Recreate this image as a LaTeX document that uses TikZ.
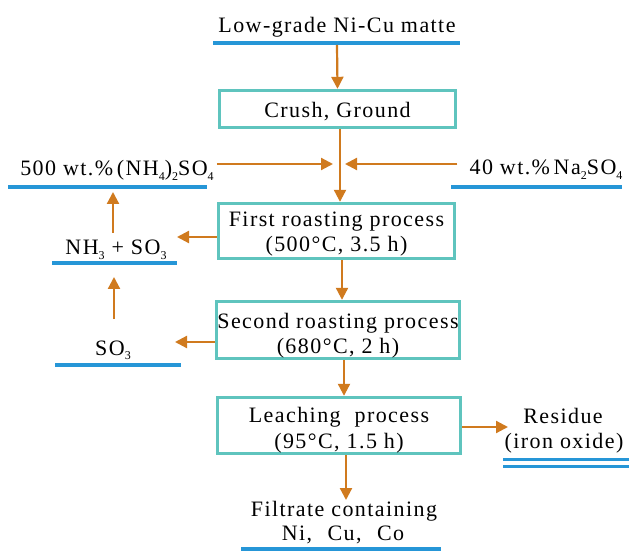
\documentclass[tikz,border=0pt]{standalone}
\usepackage{fontspec}
\setmainfont{Liberation Serif}[LetterSpace=6.5]
\usetikzlibrary{arrows.meta}
\definecolor{boxc}{RGB}{95,196,190}
\definecolor{linec}{RGB}{38,150,215}
\definecolor{arrc}{RGB}{208,122,30}
\newcommand\lowsub[1]{\raisebox{-0.45ex}{\fontsize{12}{12}\selectfont #1}}
\tikzset{
  txt/.style={font=\fontsize{22}{25}\selectfont},
  stepbox/.style={draw=boxc, line width=3.4pt, inner sep=0pt},
  lbl/.style={txt, inner sep=0pt, anchor=base},
  flow/.style={draw=arrc, line width=2.2pt, -{Triangle[length=12pt,width=12pt]}},
  uline/.style={draw=linec, line width=4pt},
}
\begin{document}
\begin{tikzpicture}[x=1pt,y=-1pt]
\useasboundingbox (0,0) rectangle (629,553);
% boxes
\node[stepbox, minimum width=236pt, minimum height=37pt] (crush) at (337.5,109) {};
\node[stepbox, minimum width=236pt, minimum height=55pt] (first) at (336.5,231) {};
\node[stepbox, minimum width=243pt, minimum height=57pt] (second) at (338,330) {};
\node[stepbox, minimum width=243pt, minimum height=56pt] (leach) at (339,425.5) {};
% box texts
\node[lbl] (crushT) at (337.5,118) {Crush, Ground};
\node[lbl] (firstT1) at (336.5,227) {First roasting process};
\node[lbl] (firstT2) at (336.5,252) {(500°C, 3.5 h)};
\node[lbl] (secondT1) at (338,328) {Second roasting process};
\node[lbl] (secondT2) at (338,353) {(680°C, 2 h)};
\node[lbl] (leachT1) at (339,422) {Leaching\ \ process};
\node[lbl] (leachT2) at (339,448) {(95°C, 1.5 h)};
% labels
\node[lbl] (low) at (337,33) {Low-grade Ni-Cu matte};
\node[lbl] (amm) at (117,176) {500 wt.\%\,(NH\lowsub{4})\lowsub{2}SO\lowsub{4}};
\node[lbl] (na) at (546,175) {40 wt.\%\,Na\lowsub{2}SO\lowsub{4}};
\node[lbl] (nh3) at (116,255) {NH\lowsub{3} + SO\lowsub{3}};
\node[lbl] (so3) at (113,355) {SO\lowsub{3}};
\node[lbl] (res1) at (563,423) {Residue};
\node[lbl] (res2) at (564,448) {(iron oxide)};
\node[lbl] (filt1) at (344,516) {Filtrate containing};
\node[lbl] (filt2) at (343,540) {Ni,\hspace{0.7em}Cu,\hspace{0.7em}Co};
% underlines
\draw[uline] (213,43) -- (460,43);
\draw[uline] (8,187) -- (207,187);
\draw[uline] (451,187) -- (622,187);
\draw[uline] (52,263) -- (177,263);
\draw[uline] (55,365) -- (181,365);
\draw[draw=linec, line width=3pt] (503,459) -- (629,459);
\draw[draw=linec, line width=3pt] (503,466) -- (629,466);
\draw[uline] (241,549) -- (441,549);
% connector coordinates
\coordinate (junc) at (340,164);
\coordinate (nh3in) at (177,237);
\coordinate (nh3out) at (113,233);
\coordinate (ammin) at (113,192);
\coordinate (so3in) at (175,342);
\coordinate (so3out) at (114,319);
\coordinate (nh3up) at (114,277);
\coordinate (resin) at (508,427);
\coordinate (filtin) at (346,500);
% connectors
\draw[flow] ([yshift=-12pt]low.base) -- (crush.north);
\draw[flow] (crush.south -| junc) -- (first.north -| junc);
\draw[flow] ([xshift=3pt]amm.east |- junc) -- ([xshift=-7pt]junc);
\draw[flow] ([xshift=-12pt]na.west |- junc) -- ([xshift=5pt]junc);
\draw[flow] (first.west |- nh3in) -- (nh3in);
\draw[flow] (nh3out) -- (ammin);
\draw[flow] (second.west |- so3in) -- (so3in);
\draw[flow] (so3out) -- (nh3up);
\draw[flow] (first.south -| 342,0) -- (second.north -| 342,0);
\draw[flow] (second.south -| 344,0) -- (leach.north -| 344,0);
\draw[flow] (leach.east |- resin) -- (resin);
\draw[flow] (leach.south -| filtin) -- (filtin);
\end{tikzpicture}
\end{document}
